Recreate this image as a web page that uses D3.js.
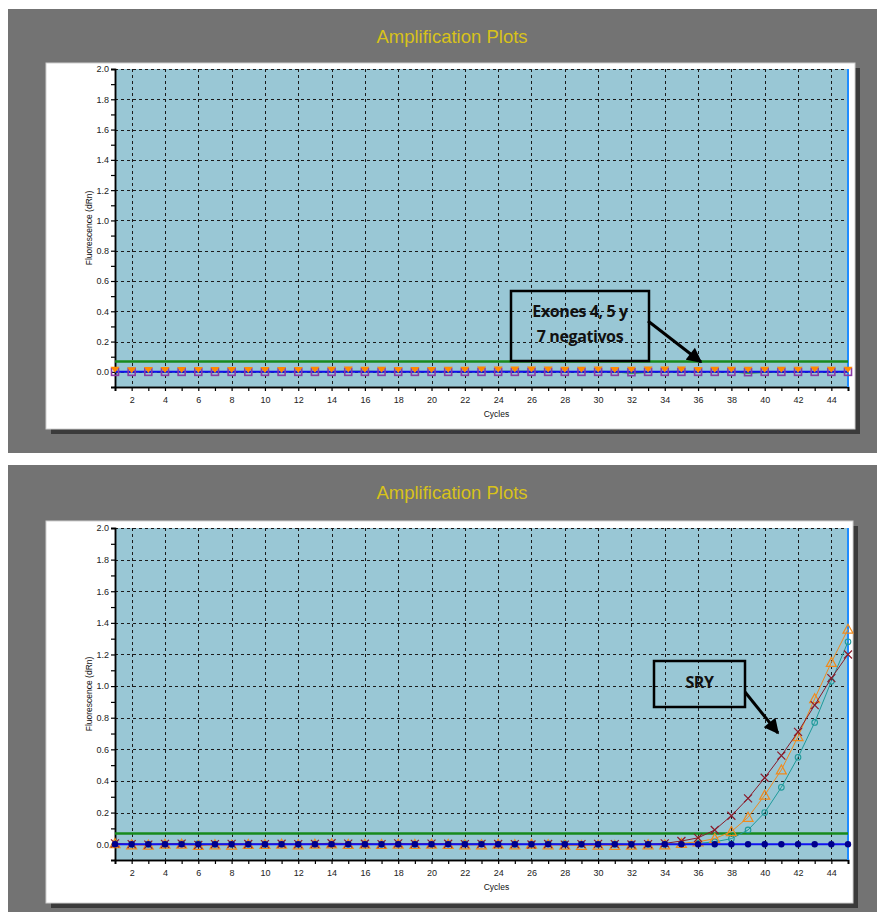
<!DOCTYPE html>
<html>
<head>
<meta charset="utf-8">
<script src="https://cdn.jsdelivr.net/npm/d3@7/dist/d3.min.js"></script>
<style>
  html, body { margin: 0; padding: 0; background: #ffffff; }
  svg { display: block; }
</style>
</head>
<body>
<svg id="chart" width="885" height="919"></svg>
<script>
// ---- data ----
const cycles = d3.range(1, 46);
const xTickLabels = d3.range(2, 46, 2);
const yTickLabels = [0.0, 0.2, 0.4, 0.6, 0.8, 1.0, 1.2, 1.4, 1.6, 1.8, 2.0];
const threshold = 0.068;

// Exones 4, 5 y 7 (all negative)
const exonOrange = [0.004,0.0,0.003,0.003,0.003,0.003,0.003,0.003,0.003,0.003,0.003,0.002,0.004,0.004,0.005,0.004,0.004,0.002,0.003,0.003,0.004,0.004,0.005,0.005,0.005,0.006,0.006,0.004,0.004,0.006,0.003,0.004,0.006,0.005,0.006,0.003,0.004,0.004,0.004,0.004,0.004,0.004,0.005,0.004,0.004];
const exonPurple = [0.0,0.0,0.0,0.0,0.0,0.0,0.0,0.0,0.0,0.0,0.0,0.0,0.0,0.0,0.0,0.0,0.0,0.0,0.0,0.0,0.0,0.0,0.0,0.0,0.0,0.0,0.0,0.0,0.0,0.0,0.0,-0.002,0.0,0.0,0.0,0.0,0.0,0.0,-0.002,0.0,0.0,0.0,0.0,0.0,0.0];
const exonGreen = [0.0,0.0,0.0,0.0,0.0,0.0,0.0,0.0,0.0,0.0,0.0,0.0,0.0,0.0,0.002,0.002,0.0,0.0,0.0,0.0,0.0,0.0,0.0,0.002,0.003,0.002,0.003,0.0,0.0,0.002,0.0,-0.007,-0.003,0.0,0.003,0.0,0.0,0.0,-0.008,-0.002,0.0,0.0,0.0,0.0,0.0];
const exonBlue = [0.0,0.0,0.0,0.0,0.0,0.0,0.0,0.0,0.0,0.0,0.0,0.0,0.0,0.0,0.0,0.0,0.0,0.0,0.0,0.0,0.0,0.0,0.0,0.0,0.0,0.0,0.0,0.0,0.0,0.0,0.0,0.0,0.0,0.0,0.0,0.0,0.0,0.0,0.0,0.0,0.0,0.0,0.0,0.0,0.0];

// SRY amplification
const sryMaroon = [0.005,0.0,-0.003,0.002,0.004,-0.004,0.0,0.002,0.001,0.0,0.003,0.0,0.002,0.006,0.004,0.003,0.0,0.005,0.002,0.004,0.003,0.0,0.002,0.001,0.0,-0.002,0.001,-0.003,0.0,0.002,0.0,-0.002,0.0,0.005,0.02,0.04,0.09,0.18,0.29,0.42,0.56,0.71,0.88,1.05,1.20];
const sryOrange = [0.004,-0.004,-0.006,0.0,0.0,-0.008,-0.004,-0.006,-0.002,-0.002,0.0,-0.004,0.0,0.002,-0.002,0.0,-0.002,0.0,-0.002,0.0,-0.002,-0.004,-0.004,0.0,-0.004,0.0,-0.004,-0.006,-0.008,-0.006,-0.008,-0.006,-0.004,-0.004,0.005,0.015,0.035,0.08,0.17,0.31,0.47,0.68,0.92,1.15,1.36];
const sryTeal = [0.0,0.0,0.0,0.0,0.006,0.004,0.0,0.0,0.0,0.0,0.0,0.0,0.0,0.0,0.0,0.0,0.0,0.0,0.0,0.0,0.002,0.003,0.004,0.0,0.0,0.0,0.004,0.003,0.0,0.0,0.0,0.0,0.0,0.0,0.002,0.005,0.015,0.035,0.09,0.20,0.36,0.55,0.77,1.03,1.28];
const sryBlue = [0.0,0.0,0.0,0.0,0.0,0.0,0.0,0.0,0.0,0.0,0.0,0.0,0.0,0.0,0.0,0.0,0.0,0.0,0.0,0.0,0.0,0.0,0.0,0.0,0.0,0.0,0.0,0.0,0.0,0.0,0.0,0.0,0.0,0.0,0.0,0.0,0.0,0.0,0.0,0.0,0.0,0.0,0.0,0.0,0.0];

const SANS = "'Liberation Sans', Arial, sans-serif";
const svg = d3.select("#chart");

// arrowhead definition for the callouts
svg.append("defs").append("marker")
  .attr("id", "arrowHead")
  .attr("viewBox", "0 0 10 10")
  .attr("refX", 9).attr("refY", 5)
  .attr("markerWidth", 5.5).attr("markerHeight", 5)
  .attr("markerUnits", "strokeWidth")
  .attr("orient", "auto")
  .append("path").attr("d", "M0,0 L10,5 L0,10 Z").attr("fill", "#000");

function drawPanel(p) {
  const g = svg.append("g");
  // outer gray frame
  g.append("rect").attr("x", 8).attr("y", p.top).attr("width", 869).attr("height", p.height).attr("fill", "#737373");
  // title
  g.append("text").attr("x", 452).attr("y", p.top + 34).attr("text-anchor", "middle")
    .style("font-family", SANS).style("font-size", "18.5px").attr("fill", "#d8c21a").text("Amplification Plots");
  // white card with shadow
  g.append("rect").attr("x", p.card[0] + 5).attr("y", p.card[1] + 5).attr("width", p.card[2] - p.card[0]).attr("height", p.card[3] - p.card[1]).attr("fill", "#3b3b3b");
  g.append("rect").attr("x", p.card[0]).attr("y", p.card[1]).attr("width", p.card[2] - p.card[0]).attr("height", p.card[3] - p.card[1]).attr("fill", "#ffffff").attr("stroke", "#d0d0d0").attr("stroke-width", 1);

  const x = d3.scaleLinear().domain([1, 45]).range([115, 848]);
  const y = d3.scaleLinear().domain([-0.1, 2.0]).range([p.y0, p.y2]);

  // plot background
  g.append("rect").attr("x", x(1)).attr("y", y(2.0)).attr("width", x(45) - x(1)).attr("height", y(-0.1) - y(2.0)).attr("fill", "#99c7d5");

  // grid
  const grid = g.append("g").attr("stroke", "#1a1a1a").attr("stroke-width", 1).attr("stroke-dasharray", "3,3");
  grid.selectAll(".hg").data(yTickLabels).join("line")
    .attr("x1", x(1)).attr("x2", x(45)).attr("y1", d => Math.round(y(d)) + 0.5).attr("y2", d => Math.round(y(d)) + 0.5);
  grid.selectAll(".vg").data(xTickLabels).join("line")
    .attr("x1", d => Math.round(x(d)) + 0.5).attr("x2", d => Math.round(x(d)) + 0.5).attr("y1", y(2.0)).attr("y2", y(-0.1));

  // axes
  const yAxis = d3.axisLeft(y).tickValues(yTickLabels).tickFormat(d3.format(".1f")).tickSize(4).tickPadding(2);
  const yMinor = d3.axisLeft(y).tickValues(d3.range(-0.1, 2.0, 0.2)).tickFormat("").tickSize(4);
  const xAxis = d3.axisBottom(x).tickValues(xTickLabels).tickFormat(d3.format("d")).tickSize(4).tickPadding(6);
  const xMinor = d3.axisBottom(x).tickValues(d3.range(1, 46, 2)).tickFormat("").tickSize(4);

  [ [yAxis, "translate(" + x(1) + ",0)"], [yMinor, "translate(" + x(1) + ",0)"],
    [xAxis, "translate(0," + y(-0.1) + ")"], [xMinor, "translate(0," + y(-0.1) + ")"] ].forEach(([ax, tr]) => {
    const a = g.append("g").attr("transform", tr).call(ax);
    a.selectAll("text").style("font-size", "9px").attr("fill", "#222").style("font-family", SANS);
    a.selectAll("line").attr("stroke", "#000").attr("stroke-width", 1.2);
    a.select(".domain").attr("stroke", "#000").attr("stroke-width", 1.5);
  });

  // right edge marker line
  g.append("line").attr("x1", x(45)).attr("x2", x(45)).attr("y1", y(2.0)).attr("y2", y(-0.1))
    .attr("stroke", "#1e8cff").attr("stroke-width", 2);

  // axis titles
  g.append("text").attr("transform", "translate(92," + ((y(2.0) + y(-0.1)) / 2) + ") rotate(-90)")
    .attr("text-anchor", "middle").style("font-family", SANS).style("font-size", "8.5px").attr("fill", "#111").text("Fluorescence (dRn)");
  g.append("text").attr("x", (x(1) + x(45)) / 2 + 15).attr("y", y(-0.1) + 30).attr("text-anchor", "middle")
    .style("font-family", SANS).style("font-size", "8.5px").attr("fill", "#111").text("Cycles");

  // threshold
  g.append("line").attr("x1", x(1)).attr("x2", x(45)).attr("y1", y(threshold)).attr("y2", y(threshold))
    .attr("stroke", "#178a1c").attr("stroke-width", 2.5);

  const plot = g.append("g");
  const line = d3.line().x((d, i) => x(cycles[i])).y(d => y(d));

  p.series.forEach(s => {
    if (s.line !== false) {
      plot.append("path").datum(s.values).attr("d", line).attr("fill", "none")
        .attr("stroke", s.color).attr("stroke-width", s.width);
    }
    const marks = plot.append("g");
    s.values.forEach((v, i) => {
      const cx = x(cycles[i]), cy = y(v);
      if (s.marker === "square") {
        marks.append("rect").attr("x", cx - 3.5).attr("y", cy - 3.5).attr("width", 7).attr("height", 7)
          .attr("fill", "none").attr("stroke", s.markerColor).attr("stroke-width", 1.6);
      } else if (s.marker === "tridown") {
        marks.append("path").attr("d", `M${cx - 4.5},${cy - 4.5} L${cx + 4.5},${cy - 4.5} L${cx},${cy + 1.5} Z`)
          .attr("fill", s.markerColor);
      } else if (s.marker === "tri") {
        marks.append("path").attr("d", `M${cx},${cy - 5} L${cx + 5},${cy + 4} L${cx - 5},${cy + 4} Z`)
          .attr("fill", "none").attr("stroke", s.markerColor).attr("stroke-width", 1.2);
      } else if (s.marker === "x") {
        marks.append("path").attr("d", `M${cx - 4},${cy - 4} L${cx + 4},${cy + 4} M${cx - 4},${cy + 4} L${cx + 4},${cy - 4}`)
          .attr("stroke", s.markerColor).attr("stroke-width", 1.2);
      } else if (s.marker === "circle") {
        marks.append("circle").attr("cx", cx).attr("cy", cy).attr("r", 2.8)
          .attr("fill", "none").attr("stroke", s.markerColor).attr("stroke-width", 1.1);
      } else if (s.marker === "dot") {
        marks.append("circle").attr("cx", cx).attr("cy", cy).attr("r", 3.2).attr("fill", s.markerColor);
      }
    });
  });

  // callout box
  const b = p.box;
  g.append("rect").attr("x", b.x).attr("y", b.y).attr("width", b.w).attr("height", b.h)
    .attr("fill", "none").attr("stroke", "#000").attr("stroke-width", 2.5);
  b.lines.forEach((t, i) => {
    g.append("text").attr("x", b.x + b.w / 2 + b.dx).attr("y", b.ty + i * 25).attr("text-anchor", "middle")
      .style("font-family", "'Open Sans', sans-serif").style("font-weight", 700).style("font-size", "16px")
      .style("letter-spacing", "-0.4px").attr("fill", "#111").text(t);
  });
  g.append("line").attr("x1", b.arrow[0]).attr("y1", b.arrow[1]).attr("x2", b.arrow[2]).attr("y2", b.arrow[3])
    .attr("stroke", "#000").attr("stroke-width", 3).attr("marker-end", "url(#arrowHead)");
}

drawPanel({
  top: 9, height: 444, card: [46, 63, 855, 429], y0: 387, y2: 69,
  series: [
    { values: exonGreen, color: "#1f8a2a", width: 1.5, marker: null },
    { values: exonBlue, color: "#1010f0", width: 2, marker: null },
    { values: exonPurple, color: "#7a3fa0", width: 1, marker: "square", markerColor: "#8a3aa8", line: false },
    { values: exonOrange, color: "#f28a1a", width: 1, marker: "tridown", markerColor: "#ff8a00", line: false }
  ],
  box: { x: 511, y: 291, w: 138, h: 70, dx: 0, ty: 317, lines: ["Exones 4, 5 y", "7 negativos"],
         arrow: [648, 321, 701, 362] }
});

drawPanel({
  top: 465, height: 447, card: [46, 521, 853, 903], y0: 860, y2: 528,
  series: [
    { values: sryTeal, color: "#1f9a9a", width: 1, marker: "circle", markerColor: "#1f9a9a" },
    { values: sryOrange, color: "#f08a1c", width: 1, marker: "tri", markerColor: "#f08a1c" },
    { values: sryMaroon, color: "#8a1a2a", width: 1, marker: "x", markerColor: "#8a1a2a" },
    { values: sryBlue, color: "#1010f0", width: 2, marker: "dot", markerColor: "#00008c" }
  ],
  box: { x: 654, y: 661, w: 91, h: 46, dx: 0, ty: 688, lines: ["SRY"],
         arrow: [745, 692, 778, 733] }
});
</script>
</body>
</html>
